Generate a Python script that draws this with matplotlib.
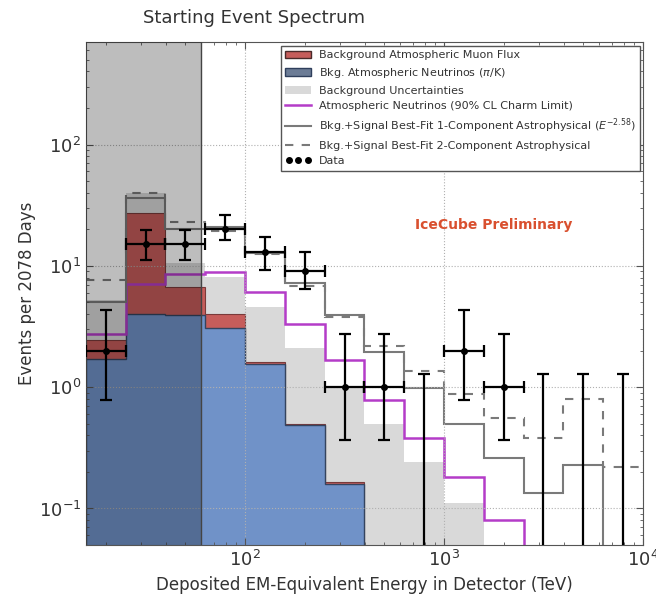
import matplotlib
matplotlib.use('Agg')
import matplotlib.pyplot as plt
import numpy as np
from matplotlib.patches import Patch
from matplotlib.lines import Line2D
from matplotlib.legend_handler import HandlerLine2D

# energy binning: 0.2 decades from 10^1.2 to 10^4 TeV
edges = np.logspace(1.2, 4.0, 15)
centers = np.sqrt(edges[:-1] * edges[1:])

# background components (events per bin)
atm_nu = [1.7, 4.0, 3.9, 3.1, 1.55, 0.49, 0.16, 0.04, 0.02, 0.01, 0.005, 0.002, 0.001, 0.001]
muon_flux = [0.75, 23.0, 2.8, 0.9, 0.05, 0.01, 0.005, 0.0, 0.0, 0.0, 0.0, 0.0, 0.0, 0.0]
bkg_upper = [5.2, 40.0, 10.6, 8.1, 4.6, 2.1, 1.0, 0.5, 0.24, 0.11, 0.04, 0.02, 0.01, 0.005]

# model curves
charm_limit = [2.75, 7.1, 8.6, 8.9, 6.1, 3.3, 1.67, 0.78, 0.38, 0.18, 0.081, 0.03, 0.015, 0.007]
fit_1comp = [5.0, 36.0, 20.0, 21.0, 12.8, 7.2, 3.9, 1.95, 0.98, 0.5, 0.26, 0.135, 0.23, 0.01]
fit_2comp = [7.6, 40.0, 23.0, 19.5, 12.5, 6.8, 3.8, 2.2, 1.36, 0.88, 0.56, 0.38, 0.8, 0.22]

# observed events with 68% intervals
counts = [2, 15, 15, 20, 13, 9, 1, 1, 0, 2, 1, 0, 0, 0]
count_lo = [0.78, 11.2, 11.2, 16.4, 9.3, 6.4, 0.37, 0.37, 0.0, 0.78, 0.37, 0.0, 0.0, 0.0]
count_hi = [4.3, 19.8, 19.8, 26.4, 17.4, 13.1, 2.75, 2.75, 1.29, 4.3, 2.75, 1.29, 1.29, 1.29]

e_threshold = 60.0

red = '#c65d5b'
blue = '#7092c8'
unc_gray = '#d9d9d9'
magenta = '#b43cc8'
fit_gray = '#7a7a7a'

fig = plt.figure(figsize=(6.56, 6.05), dpi=100)
ax = fig.add_axes([0.131, 0.0992, 0.849, 0.8314])
ax.set_xscale('log')
ax.set_yscale('log')
ax.set_xlim(edges[0], edges[-1])
ax.set_ylim(0.05, 700)

base = 1e-3
atm = np.array(atm_nu)
stack = atm + np.array(muon_flux)

ax.stairs(bkg_upper, edges, baseline=base, fill=True, color=unc_gray, zorder=0.6)
ax.stairs(stack, edges, baseline=base, fill=True, color=red, zorder=0.8)
ax.stairs(stack, edges, baseline=base, color='#7a3a3a', lw=0.8, zorder=0.9)
ax.stairs(atm, edges, baseline=base, fill=True, color=blue, zorder=1.0)
ax.stairs(atm, edges, baseline=base, color='#34445f', lw=1.0, zorder=1.1)

ax.stairs(charm_limit, edges, baseline=None, color=magenta, lw=1.8, zorder=2)
ax.stairs(fit_1comp, edges, baseline=None, color=fit_gray, lw=1.5, zorder=2)
ax.stairs(fit_2comp, edges, baseline=None, color=fit_gray, lw=1.5, ls=(0, (4, 4)), zorder=2)

ax.grid(True, which='major', ls=':', color='#b0b0b0', lw=0.8)
ax.set_axisbelow(False)

# region below the 60 TeV analysis threshold
ax.axvspan(edges[0], e_threshold, color='k', alpha=0.26, lw=0, zorder=3)
ax.axvline(e_threshold, color='#444444', lw=1.0, zorder=3)

counts = np.array(counts, dtype=float)
seen = counts > 0
xlo = centers - edges[:-1]
xhi = edges[1:] - centers
ax.errorbar(centers[seen], counts[seen],
            yerr=[counts[seen] - np.array(count_lo)[seen], np.array(count_hi)[seen] - counts[seen]],
            xerr=[xlo[seen], xhi[seen]],
            fmt='o', color='k', ms=4, elinewidth=1.6, capsize=4, capthick=1.6, zorder=6)
# upper limits for empty bins
ul = ~seen
ax.errorbar(centers[ul], np.array(count_hi)[ul], yerr=[np.array(count_hi)[ul] - 1e-3, np.zeros(ul.sum())],
            fmt='none', ecolor='k', elinewidth=1.6, capsize=4, capthick=1.6, zorder=6)

ax.tick_params(which='both', direction='in', top=True, right=True, colors='#555555',
               labelcolor='#333333', labelsize=13)
ax.tick_params(which='major', length=5)
ax.tick_params(which='minor', length=2.5)
for s in ax.spines.values():
    s.set_color('#555555')

ax.set_xlabel('Deposited EM-Equivalent Energy in Detector (TeV)', fontsize=12, color='#333333', labelpad=4)
ax.set_ylabel('Events per 2078 Days', fontsize=12, color='#333333', labelpad=2)

ax.text(0.733, 0.636, 'IceCube Preliminary', transform=ax.transAxes, ha='center', va='center',
        fontsize=10, fontweight='bold', color='#d9502f', zorder=7)

fig.text(254 / 656, 1 - 18 / 605, 'Starting Event Spectrum', ha='center', va='center',
         fontsize=13, color='#333333')

handles = [
    Patch(facecolor=red, edgecolor='#4a2a2a', lw=1.0),
    Patch(facecolor='#6c7c96', edgecolor='#2f3f5c', lw=1.0),
    Patch(facecolor=unc_gray, edgecolor='none'),
    Line2D([], [], color=magenta, lw=1.8),
    Line2D([], [], color=fit_gray, lw=1.5),
    Line2D([], [], color=fit_gray, lw=1.5, ls=(0, (4, 4))),
    Line2D([], [], color='k', marker='o', ls='none', ms=4),
]
labels = [
    'Background Atmospheric Muon Flux',
    r'Bkg. Atmospheric Neutrinos ($\pi$/K)',
    'Background Uncertainties',
    'Atmospheric Neutrinos (90% CL Charm Limit)',
    r'Bkg.+Signal Best-Fit 1-Component Astrophysical ($E^{-2.58}$)',
    'Bkg.+Signal Best-Fit 2-Component Astrophysical',
    'Data',
]
leg = ax.legend(handles, labels, loc='upper right', bbox_to_anchor=(0.995, 0.992), borderaxespad=0,
                fontsize=8.0, labelspacing=0.5, handlelength=2.3, handletextpad=0.7, fancybox=False,
                framealpha=1, handler_map={handles[-1]: HandlerLine2D(numpoints=3)})
leg.get_frame().set_edgecolor('#555555')
leg.set_zorder(10)
for t in leg.get_texts():
    t.set_color('#333333')

fig.savefig('out.png', dpi=100)
